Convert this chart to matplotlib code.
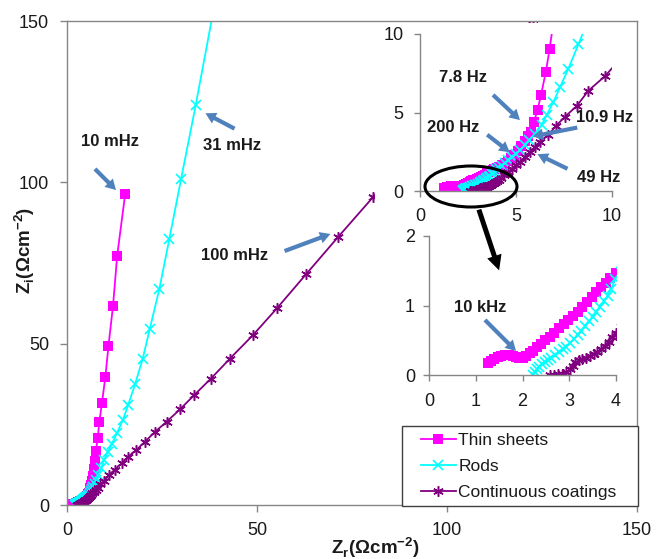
import matplotlib
matplotlib.use('Agg')
import matplotlib.pyplot as plt
from matplotlib.patches import Ellipse, Rectangle, FancyArrowPatch
from matplotlib.lines import Line2D

plt.rcParams['font.family'] = ['Liberation Sans', 'DejaVu Sans']
plt.rcParams['mathtext.fontset'] = 'custom'
plt.rcParams['mathtext.bf'] = 'Liberation Sans:bold'
plt.rcParams['mathtext.rm'] = 'Liberation Sans'

# ---------------- data ----------------
thin_zr = [1.27, 1.33, 1.40, 1.47, 1.55, 1.63, 1.71, 1.79, 1.86, 1.93, 2.00, 2.07, 2.15, 2.23,
           2.31, 2.40, 2.49, 2.58, 2.68, 2.78, 2.88, 2.98, 3.08, 3.18, 3.28, 3.38, 3.48, 3.58,
           3.68, 3.78, 3.88, 3.99, 4.12, 4.26, 4.41, 4.57, 4.74, 4.92, 5.10, 5.28, 5.45, 5.62,
           5.78, 5.94, 6.12, 6.30, 6.55, 6.75, 7.0, 7.3, 7.6, 8.1, 8.5, 9.2, 10.1, 10.9, 12.1,
           13.2, 15.3]
thin_zi = [0.17, 0.20, 0.23, 0.26, 0.28, 0.29, 0.29, 0.28, 0.26, 0.24, 0.24, 0.27, 0.31, 0.35,
           0.40, 0.45, 0.50, 0.55, 0.61, 0.67, 0.73, 0.79, 0.85, 0.91, 0.98, 1.05, 1.12, 1.19,
           1.26, 1.33, 1.40, 1.47, 1.56, 1.66, 1.78, 1.92, 2.09, 2.30, 2.55, 2.85, 3.20, 3.50,
           3.78, 4.41, 5.16, 6.10, 7.56, 9.04, 11.2, 13.7, 16.8, 20.9, 25.6, 31.7, 39.7, 49.2,
           61.6, 77.2, 96.3]

rods_zr = [2.22, 2.26, 2.30, 2.35, 2.41, 2.48, 2.55, 2.62, 2.70, 2.78, 2.86, 2.94, 3.02, 3.10,
           3.18, 3.26, 3.34, 3.42, 3.50, 3.58, 3.66, 3.74, 3.82, 3.90, 3.98, 4.10, 4.25, 4.42,
           4.60, 4.80, 5.00, 5.22, 5.45, 5.70, 5.98, 6.34, 6.60, 6.94, 7.29, 7.73, 8.25, 9.0,
           9.8, 10.7, 11.8, 13.1, 14.7, 16.1, 17.9, 19.9, 21.8, 24.3, 26.9, 30.0, 33.9, 38.5]
rods_zi = [0.00, 0.04, 0.08, 0.12, 0.16, 0.19, 0.22, 0.25, 0.29, 0.33, 0.37, 0.41, 0.46, 0.52,
           0.58, 0.64, 0.70, 0.77, 0.84, 0.91, 0.98, 1.06, 1.14, 1.24, 1.38, 1.48, 1.62, 1.78,
           1.96, 2.16, 2.38, 2.62, 2.90, 3.25, 3.65, 4.20, 4.84, 5.65, 6.60, 7.80, 9.34, 11.6,
           14.0, 16.4, 18.9, 22.2, 26.3, 31.0, 37.4, 45.2, 54.7, 66.9, 82.3, 100.9, 124.1, 153.0]

cont_zr = [2.59, 2.68, 2.77, 2.86, 2.94, 3.01, 3.07, 3.13, 3.20, 3.28, 3.36, 3.44, 3.52, 3.60,
           3.68, 3.76, 3.84, 3.92, 3.99, 4.10, 4.24, 4.40, 4.58, 4.78, 5.00, 5.22, 5.46, 5.72,
           5.98, 6.25, 6.68, 7.08, 7.55, 8.16, 8.77, 9.64, 11.0, 12.6, 14.4, 16.1, 18.2, 20.5,
           23.2, 26.2, 29.7, 33.5, 37.9, 42.9, 48.9, 55.2, 62.9, 71.3, 80.6, 90.5, 100.8, 111.5,
           122.5, 134.0]
cont_zi = [0.00, 0.00, 0.01, 0.02, 0.04, 0.08, 0.13, 0.18, 0.21, 0.23, 0.25, 0.27, 0.30, 0.33,
           0.37, 0.42, 0.48, 0.55, 0.61, 0.70, 0.84, 1.00, 1.19, 1.40, 1.63, 1.87, 2.15, 2.47,
           2.80, 3.14, 3.57, 4.14, 4.73, 5.41, 6.39, 7.32, 9.2, 11.0, 12.9, 15.0, 17.0, 19.6,
           22.7, 25.8, 29.6, 34.1, 39.2, 45.4, 52.6, 60.9, 71.5, 83.0, 95.5, 108.5, 122.0, 136.0,
           150.5, 165.0]

series_names = ['Thin sheets', 'Rods', 'Continuous coatings']
main_ticks = [0, 50, 100, 150]
inset1_ticks = [0, 5, 10]
inset2_xticks = [0, 1, 2, 3, 4]
inset2_yticks = [0, 1, 2]

# ---------------- styles ----------------
MAG = '#FF00FF'
CYA = '#00FFFF'
PUR = '#800080'
BLUE = '#4F81BD'
GRAY = '#868686'
TXT = '#1a1a1a'

styles = [
    dict(color=MAG, marker='s', markersize=6.5, markeredgewidth=0, lw=1.3),
    dict(color=CYA, marker='x', markersize=7.5, markeredgewidth=1.2, lw=1.3),
    dict(color=PUR, marker=(6, 2, 0), markersize=7.5, markeredgewidth=1.1, lw=1.3),
]
datas = [(thin_zr, thin_zi), (rods_zr, rods_zi), (cont_zr, cont_zi)]

W, H = 657, 559
fig = plt.figure(figsize=(W / 100, H / 100), dpi=100)


def F(x, y):
    return (x / W, 1 - y / H)


def rect(x0, y0, x1, y1):
    return [x0 / W, 1 - y1 / H, (x1 - x0) / W, (y1 - y0) / H]


def style_axes(ax, spines=('left', 'bottom', 'top', 'right'), length=5, padx=7, pady=8):
    for s in ['left', 'bottom', 'top', 'right']:
        ax.spines[s].set_visible(s in spines)
        ax.spines[s].set_color(GRAY)
        ax.spines[s].set_linewidth(1.0)
    ax.tick_params(axis='both', direction='out', length=length, width=1.0, color=GRAY,
                   labelsize=13, labelcolor=TXT)
    ax.tick_params(axis='x', pad=padx, top=False)
    ax.tick_params(axis='y', pad=pady, right=False)


# main axes
main = fig.add_axes(rect(67, 21, 637, 505))
for (zr, zi), st in zip(datas, styles):
    main.plot(zr, zi, **st)
main.set_xlim(0, 150)
main.set_ylim(0, 150)
main.set_xticks(main_ticks)
main.set_yticks(main_ticks)
style_axes(main)

# white box covering the inset region
box = fig.add_axes(rect(375, 23, 636, 425))
box.set_xticks([])
box.set_yticks([])
for s in box.spines.values():
    s.set_visible(False)
box.set_facecolor('white')

# inset 1
ins1 = fig.add_axes(rect(420, 34, 612, 191))
for (zr, zi), st in zip(datas, styles):
    ins1.plot(zr, zi, **st)
ins1.set_xlim(0, 10)
ins1.set_ylim(0, 10)
ins1.set_xticks(inset1_ticks)
ins1.set_yticks(inset1_ticks)
ins1.patch.set_alpha(0)
style_axes(ins1, spines=('left', 'bottom'), length=4, padx=8, pady=8)

# inset 2
ins2 = fig.add_axes(rect(429, 236, 616, 375))
for (zr, zi), st in zip(datas, styles):
    ins2.plot(zr, zi, **st)
ins2.set_xlim(0, 4)
ins2.set_ylim(0, 2)
ins2.set_xticks(inset2_xticks)
ins2.set_yticks(inset2_yticks)
ins2.patch.set_alpha(0)
style_axes(ins2, spines=('left', 'bottom'), length=4, padx=9, pady=6)

# axis labels
fig.text(375 / W, 1 - 548 / H, r'Z$_\mathbf{r}$(Ωcm$^\mathbf{-2}$)', ha='center', va='center',
         fontsize=13.5, fontweight='bold', color=TXT)
fig.text(25 / W, 1 - 250 / H, r'Z$_\mathbf{i}$(Ωcm$^\mathbf{-2}$)', ha='center', va='center',
         fontsize=13.5, fontweight='bold', color=TXT, rotation=90)

# annotations (blue arrows)
ann = [
    ('10 mHz', (110, 142), (93, 167), (118, 192)),
    ('31 mHz', (232, 145), (237, 130), (203, 112)),
    ('100 mHz', (235, 256), (282, 252), (333, 233)),
    ('7.8 Hz', (463, 77), (491, 93), (522, 122)),
    ('200 Hz', (453, 128), (485, 133), (512, 154)),
    ('10.9 Hz', (605, 118), (580, 127), (530, 137)),
    ('49 Hz', (599, 177), (570, 170), (535, 153)),
    ('10 kHz', (480, 308), (483, 318), (518, 353)),
]
for label, tpos, a0, a1 in ann:
    fig.text(*F(*tpos), label, ha='center', va='center', fontsize=12, fontweight='bold',
             color=TXT, zorder=5)
    arr = FancyArrowPatch(F(*a0), F(*a1), transform=fig.transFigure,
                          arrowstyle='simple,head_width=0.85,head_length=0.75,tail_width=0.3',
                          mutation_scale=10, color=BLUE, lw=0, zorder=5)
    fig.add_artist(arr)

# ellipse and black arrow
ell = Ellipse(F(471, 186.5), 92 / W, 41 / H, transform=fig.transFigure, fill=False,
              edgecolor='black', lw=2.2, zorder=5)
fig.add_artist(ell)
barr = FancyArrowPatch(F(478, 207), F(500, 273), transform=fig.transFigure,
                       arrowstyle='simple,head_width=0.9,head_length=0.9,tail_width=0.3',
                       mutation_scale=12, color='black', lw=0, zorder=5)
fig.add_artist(barr)

# legend (frame drawn separately)
fig.add_artist(Rectangle(F(402, 506), (638 - 402) / W, (506 - 426) / H,
                         transform=fig.transFigure, fill=True, facecolor='white',
                         edgecolor='#404040', lw=1.0, zorder=4))
handles = [Line2D([], [], **st) for st in styles]
leg = fig.legend(handles, series_names, loc='upper left', bbox_to_anchor=F(421, 433),
                 frameon=False, fontsize=12.5, handlelength=2.0, handletextpad=0.15,
                 labelspacing=0.62, borderpad=0, borderaxespad=0)
leg.set_zorder(6)
for t in leg.get_texts():
    t.set_color(TXT)

fig.savefig('out.png', dpi=100)
